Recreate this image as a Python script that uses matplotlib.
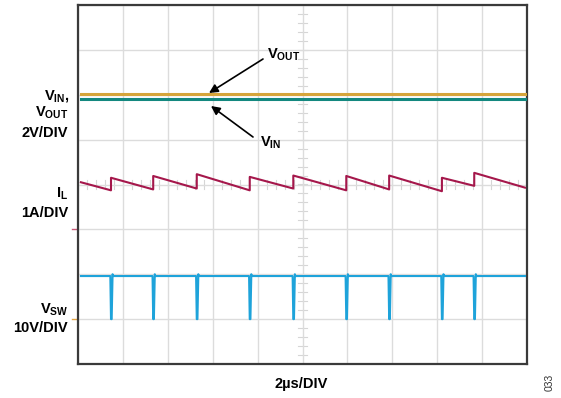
import matplotlib.pyplot as plt
import numpy as np

plt.rcParams['font.family'] = 'Liberation Sans'
plt.rcParams['mathtext.fontset'] = 'custom'
plt.rcParams['mathtext.rm'] = 'Liberation Sans:bold'
plt.rcParams['mathtext.it'] = 'Liberation Sans:bold'
plt.rcParams['mathtext.bf'] = 'Liberation Sans:bold'

# Scope capture, time in us (2us/DIV, 10 divisions)
t_start = 0.13
t_end = 19.91

# switching edges (us) shared by IL and VSW
t_sw = [1.47, 3.35, 5.29, 7.65, 9.59, 11.95, 13.86, 16.21, 17.65]

# inductor current (A): valley just before each edge, peak just after
il_start = 1.05
il_valley = [0.87, 0.89, 0.91, 0.87, 0.91, 0.87, 0.89, 0.85, 0.97]
il_peak = [1.15, 1.19, 1.23, 1.17, 1.20, 1.19, 1.20, 1.15, 1.26]
il_end = 0.93

# input / output rails (V)
v_out = 12.05
v_in = 11.80

# switch node (V)
vsw_high = 9.6
vsw_low = 0.0

# channel scale (units/DIV) and ground marker position (DIV from center)
ch_scale = {'vio': 2.0, 'il': 1.0, 'sw': 10.0}
ch_zero = {'vio': -4.0, 'il': -1.0, 'sw': -3.0}


def to_div(val, ch):
    return np.asarray(val) / ch_scale[ch] + ch_zero[ch]


fig = plt.figure(figsize=(5.61, 3.98), dpi=100)
ax = fig.add_axes([78 / 561, 34 / 398, 449 / 561, 359 / 398])
ax.set_xlim(0, 20)
ax.set_ylim(-4, 4)
ax.set_xticks(np.arange(0, 21, 2))
ax.set_yticks(np.arange(-4, 5, 1))
ax.grid(color='#dcdcdc', lw=1.0)
ax.tick_params(length=0, labelbottom=False, labelleft=False)
for s in ax.spines.values():
    s.set_color('#3a3a3a')
    s.set_linewidth(1.6)

# minor ticks on the center lines
for x in np.arange(0, 20, 0.4):
    ax.plot([x, x], [-0.09, 0.09], color='#d6d6d6', lw=0.8, zorder=1)
for y in np.arange(-4, 4, 0.2):
    ax.plot([9.82, 10.18], [y, y], color='#d6d6d6', lw=0.8, zorder=1)

# IL sawtooth
il_t = [t_start]
il_v = [il_start]
for t, lo, hi in zip(t_sw, il_valley, il_peak):
    il_t += [t, t]
    il_v += [lo, hi]
il_t.append(t_end)
il_v.append(il_end)
ax.plot(il_t, to_div(il_v, 'il'), color='#a5174b', lw=1.5, zorder=3)

# VSW with short low pulses
sw_t = [t_start]
sw_v = [vsw_high]
for t in t_sw:
    sw_t += [t - 0.03, t, t + 0.03, t + 0.07, t + 0.09]
    sw_v += [vsw_high, vsw_low, vsw_low, vsw_high + 0.4, vsw_high]
sw_t.append(t_end)
sw_v.append(vsw_high)
ax.plot(sw_t, to_div(sw_v, 'sw'), color='#1ea3da', lw=1.5, zorder=3)

# VIN and VOUT rails
ax.plot([t_start, t_end], to_div([v_out, v_out], 'vio'), color='#d6a53b', lw=2.2, zorder=3)
ax.plot([t_start, t_end], to_div([v_in, v_in], 'vio'), color='#13887f', lw=2.2, zorder=3)

# channel ground markers on the left edge
ax.plot([-0.27, -0.09], [ch_zero['il']] * 2, color='#c85a78', lw=1, clip_on=False)
ax.plot([-0.27, -0.09], [ch_zero['sw']] * 2, color='#e3a445', lw=1, clip_on=False)

H = 398
fs = 10.5
lab = dict(ha='right', va='baseline', fontsize=fs, fontweight='bold')
fig.text(70 / 561, 1 - 99.5 / H, r'V$_{\mathrm{IN}}$,', **lab)
fig.text(68 / 561, 1 - 116.5 / H, r'V$_{\mathrm{OUT}}$', **lab)
fig.text(68 / 561, 1 - 137 / H, '2V/DIV', **lab)
fig.text(68 / 561, 1 - 198 / H, r'I$_{\mathrm{L}}$', **lab)
fig.text(68 / 561, 1 - 217 / H, '1A/DIV', **lab)
fig.text(68 / 561, 1 - 314 / H, r'V$_{\mathrm{SW}}$', **lab)
fig.text(68 / 561, 1 - 332 / H, '10V/DIV', **lab)
fig.text(301.5 / 561, 1 - 388 / H, '2µs/DIV', ha='center', va='baseline',
         fontsize=fs, fontweight='bold')
fig.text(550 / 561, 1 - 382 / H, '033', ha='center', va='center', rotation=90,
         fontsize=7.5, color='#333333')

# trace callouts
fig.text(267 / 561, 1 - 58.5 / H, r'V$_{\mathrm{OUT}}$', ha='left', va='baseline',
         fontsize=fs, fontweight='bold')
fig.text(260 / 561, 1 - 147 / H, r'V$_{\mathrm{IN}}$', ha='left', va='baseline',
         fontsize=fs, fontweight='bold')
arrow = dict(arrowstyle='-|>', color='black', lw=1.2, mutation_scale=13,
             shrinkA=0, shrinkB=0)
ax.annotate('', xy=(209, H - 93), xytext=(263, H - 59),
            xycoords='figure pixels', textcoords='figure pixels', arrowprops=arrow)
ax.annotate('', xy=(211, H - 106), xytext=(253, H - 137),
            xycoords='figure pixels', textcoords='figure pixels', arrowprops=arrow)

plt.savefig('out.png', dpi=100)
